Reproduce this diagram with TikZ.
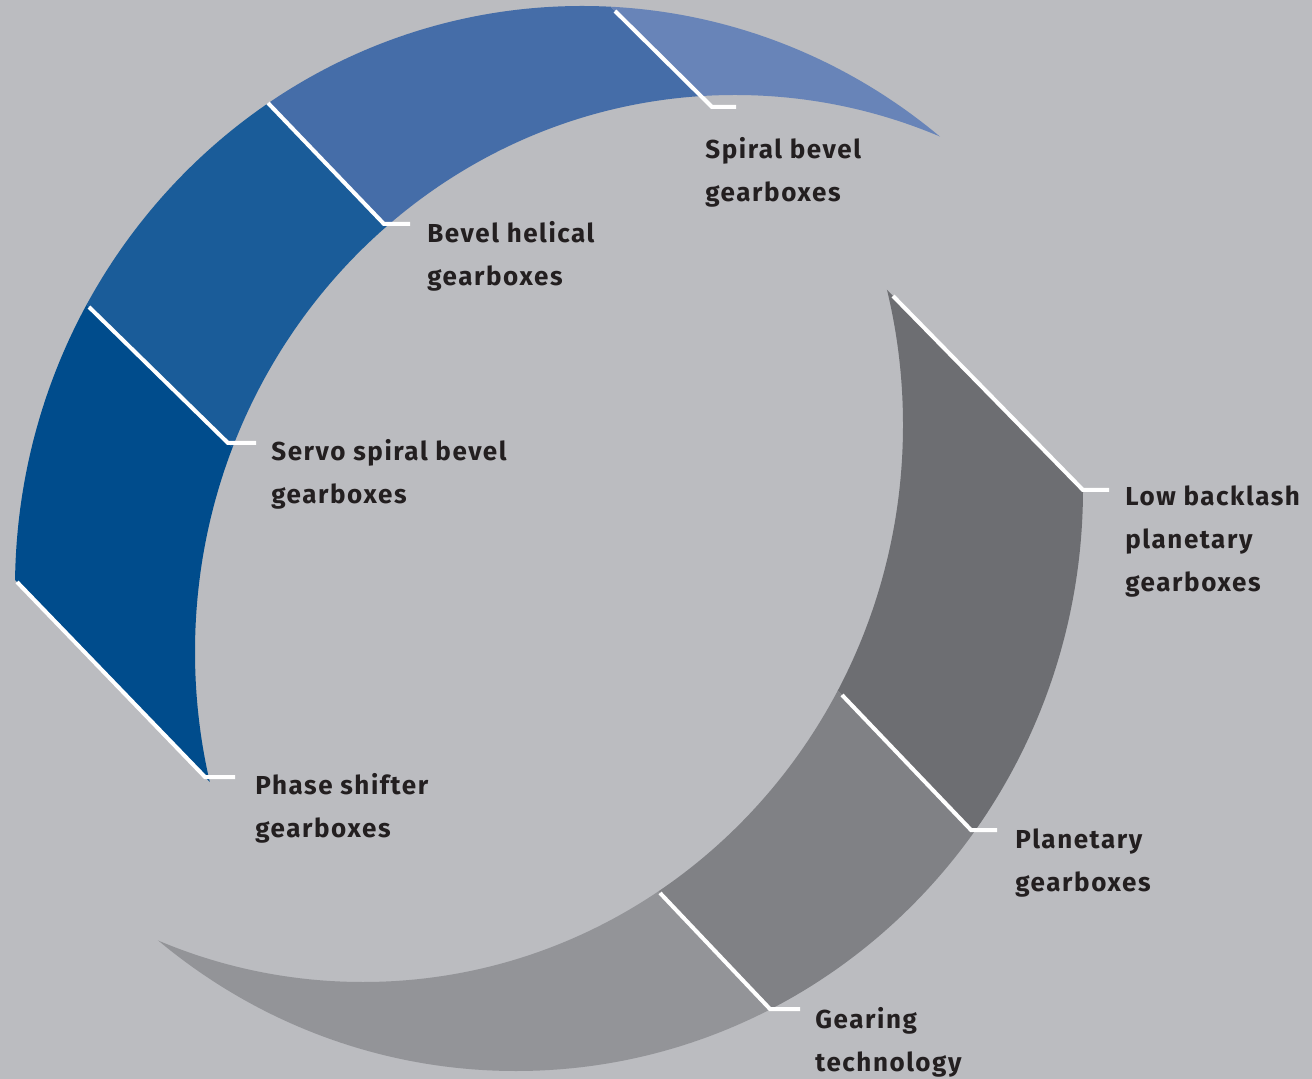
\documentclass[tikz,border=0pt]{standalone}
\usepackage{fontspec}
\setmainfont{Fira Sans}[LetterSpace=6]
\usetikzlibrary{calc}

\definecolor{bg}{RGB}{187,188,192}
\definecolor{ink}{RGB}{35,31,32}
\definecolor{phasecol}{RGB}{0,76,140}
\definecolor{servocol}{RGB}{26,92,153}
\definecolor{bevelcol}{RGB}{69,109,168}
\definecolor{spiralcol}{RGB}{104,132,184}
\definecolor{lowbackcol}{RGB}{109,110,114}
\definecolor{planetcol}{RGB}{128,129,133}
\definecolor{gearingcol}{RGB}{147,148,152}

\begin{document}
\begin{tikzpicture}[x=0.5pt,y=-0.5pt,
  divider/.style={white,line width=2pt},
  lbl/.style={anchor=base west,inner sep=0pt,align=left,text=ink,
    font=\fontsize{13}{21.5}\selectfont\bfseries}]
\useasboundingbox (0,0) rectangle (1312,1079);
\fill[bg] (0,0) rectangle (1312,1079);

% ends of the cuts, outer (o) and inner (i)
\coordinate (b0o) at (17,582);  \coordinate (b0i) at (205,777);
\coordinate (b1o) at (89,307);  \coordinate (b1i) at (228,443);
\coordinate (b2o) at (268,103); \coordinate (b2i) at (384,224);
\coordinate (b3o) at (615,11);  \coordinate (b3i) at (712,107);
\coordinate (g0i) at (893,296); \coordinate (g0o) at (1083,490);
\coordinate (g1i) at (842,695); \coordinate (g1o) at (971,830);
\coordinate (g2i) at (660,893); \coordinate (g2o) at (770,1009);
\foreach \c in {b0,b1,b2,b3,g0,g1,g2} {
  \coordinate (x\c) at ($(\c o)!-1!(\c i)$);
  \coordinate (y\c) at ($(\c i)!-1!(\c o)$);
}

% blue crescent
\begin{scope}
\clip (582,588) ellipse [x radius=567,y radius=582];
\begin{scope}
  \clip (xb0) -- (yb0) -- (yb1) -- (xb1) -- cycle;
  \fill[phasecol,even odd rule] (-200,-200) rectangle (1500,1300) (735,652) ellipse [x radius=540,y radius=557];
\end{scope}
\begin{scope}
  \clip (xb1) -- (yb1) -- (yb2) -- (xb2) -- cycle;
  \fill[servocol,even odd rule] (-200,-200) rectangle (1500,1300) (735,652) ellipse [x radius=540,y radius=557];
\end{scope}
\begin{scope}
  \clip (xb2) -- (yb2) -- (yb3) -- (xb3) -- cycle;
  \fill[bevelcol,even odd rule] (-200,-200) rectangle (1500,1300) (735,652) ellipse [x radius=540,y radius=557];
\end{scope}
\begin{scope}
  \clip (xb3) -- (yb3) -- (1400,700) -- (1400,-200) -- cycle;
  \fill[spiralcol,even odd rule] (-200,-200) rectangle (1500,1300) (735,652) ellipse [x radius=540,y radius=557];
\end{scope}
\end{scope}

% grey crescent
\begin{scope}
\clip (516,489) ellipse [x radius=567,y radius=582];
\begin{scope}
  \clip (xg0) -- (yg0) -- (yg1) -- (xg1) -- cycle;
  \fill[lowbackcol,even odd rule] (-200,-200) rectangle (1500,1300) (363,425) ellipse [x radius=540,y radius=557];
\end{scope}
\begin{scope}
  \clip (xg1) -- (yg1) -- (yg2) -- (xg2) -- cycle;
  \fill[planetcol,even odd rule] (-200,-200) rectangle (1500,1300) (363,425) ellipse [x radius=540,y radius=557];
\end{scope}
\begin{scope}
  \clip (xg2) -- (yg2) -- (-200,700) -- (-200,1300) -- cycle;
  \fill[gearingcol,even odd rule] (-200,-200) rectangle (1500,1300) (363,425) ellipse [x radius=540,y radius=557];
\end{scope}
\end{scope}

% white cuts with their ticks
\draw[divider] (b0o) -- (b0i) -- ++(30,0);
\draw[divider] (b1o) -- (b1i) -- ++(28,0);
\draw[divider] (b2o) -- (b2i) -- ++(26,0);
\draw[divider] (b3o) -- (b3i) -- ++(24,0);
\draw[divider] (g0i) -- (g0o) -- ++(26,0);
\draw[divider] (g1i) -- (g1o) -- ++(26,0);
\draw[divider] (g2i) -- (g2o) -- ++(30,0);

% labels (placed at the baseline of their last line)
\node[lbl] (spiral) at (705,202) {Spiral bevel\\gearboxes};
\node[lbl] (bevel) at (427,286) {Bevel helical\\gearboxes};
\node[lbl] (servo) at (271,504) {Servo spiral bevel\\gearboxes};
\node[lbl] (phase) at (255,837) {Phase shifter\\gearboxes};
\node[lbl] (lowback) at (1125,592) {Low backlash\\planetary\\gearboxes};
\node[lbl] (planet) at (1015,891) {Planetary\\gearboxes};
\node[lbl] (gearing) at (815,1071) {Gearing\\technology};
\end{tikzpicture}
\end{document}
